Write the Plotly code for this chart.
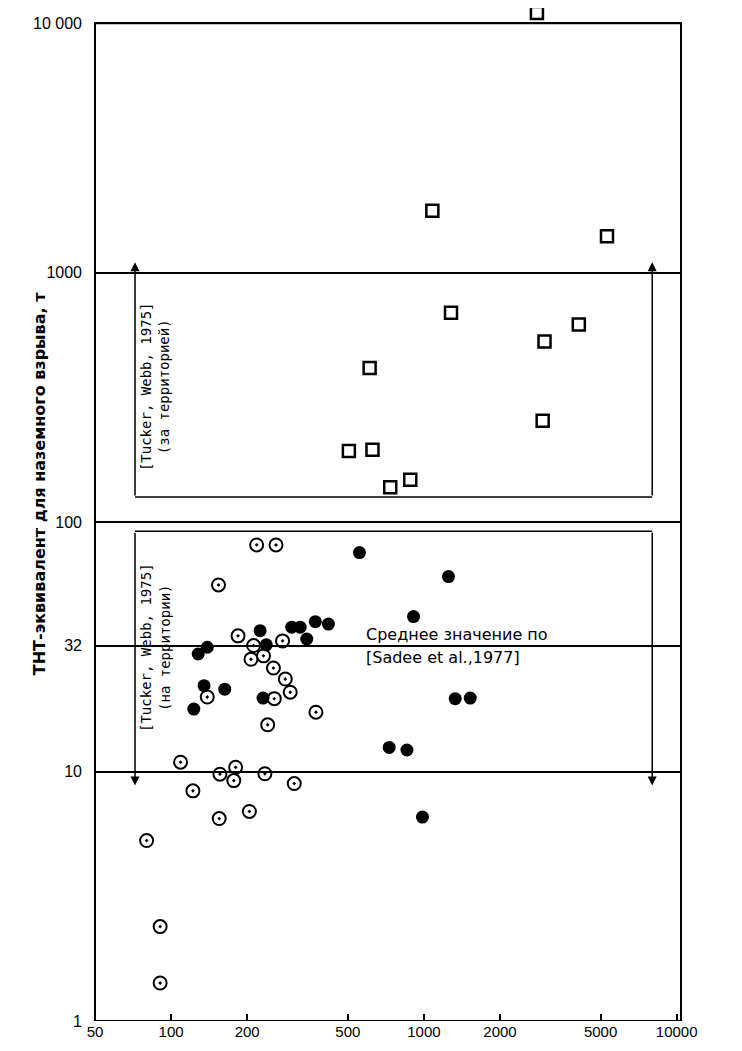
import numpy as np
import plotly.graph_objs as go

# squares: beyond territory
sq_x = [2800, 1080, 5300, 1280, 4100, 3000, 610, 2950, 505, 626, 736, 883]
sq_y = [11000, 1770, 1400, 690, 620, 530, 415, 255, 193, 195, 138, 148]

# filled circles
fc_x = [128, 139, 225, 238, 300, 324, 372, 419, 344, 135, 163, 123, 231,
        556, 1251, 910, 1330, 1525, 729, 857, 987]
fc_y = [29.6, 31.5, 36.7, 32.2, 37.9, 37.9, 39.9, 39.0, 34.0, 22.1, 21.4, 17.8, 19.7,
        75.5, 60.5, 41.8, 19.6, 19.7, 12.5, 12.2, 6.57]

# open circles with a dot
oc_x = [218, 260, 154, 184, 212, 276, 207, 232, 254, 283, 296, 139, 256, 374,
        241, 109, 156, 180, 177, 235, 307, 122, 204, 155, 80, 90.5, 90.5]
oc_y = [81, 81, 56.0, 35.0, 32.0, 33.4, 28.2, 29.1, 26.0, 23.5, 20.8, 19.9, 19.6, 17.3,
        15.4, 10.9, 9.76, 10.4, 9.2, 9.8, 8.95, 8.37, 6.92, 6.48, 5.29, 2.39, 1.42]

# reference levels
sadee_mean = 32

# Tucker & Webb ranges
bracket_x = [72, 8000]
on_territory = [8.8, 92]
off_territory = [126, 1100]

x_ticks = [50, 100, 200, 500, 1000, 2000, 5000, 10000]
x_ticktext = ['50', '100', '200', '500', '1000', '2000', '5000', '10000']
y_ticks = [1, 10, 32, 100, 1000, 10000]
y_ticktext = ['1', '10', '32', '100', '1000', '10 000']
y_frame = [1, 10000]

lg = np.log10
mono = 'DejaVu Sans Mono'
narrow = 'Liberation Sans Narrow, Liberation Sans, Arial'

traces = [
    go.Scatter(x=sq_x, y=sq_y, mode='markers', cliponaxis=False,
               marker=dict(symbol='square-open', size=12, color='black',
                           line=dict(width=2.5, color='black'))),
    go.Scatter(x=fc_x, y=fc_y, mode='markers',
               marker=dict(symbol='circle', size=13, color='black')),
    go.Scatter(x=oc_x, y=oc_y, mode='markers', cliponaxis=False,
               marker=dict(symbol='circle-open-dot', size=13, color='black',
                           line=dict(width=2, color='black'))),
]

# frame drawn as a box so the one point above 10 000 still shows
shapes = [dict(type='rect', xref='paper', yref='y', x0=0, x1=1,
               y0=y_frame[0], y1=y_frame[1],
               line=dict(color='black', width=2), fillcolor='rgba(0,0,0,0)')]
annotations = []

# bracket bottoms / tops
for yv in [off_territory[0], on_territory[1]]:
    shapes.append(dict(type='line', xref='x', yref='y',
                       x0=bracket_x[0], x1=bracket_x[1], y0=yv, y1=yv,
                       line=dict(color='black', width=1.5)))

# bracket verticals with arrows
for xb in bracket_x:
    for tip, tail in [(off_territory[1], off_territory[0]), (on_territory[0], on_territory[1])]:
        annotations.append(dict(x=lg(xb), y=lg(tip), ax=lg(xb), ay=lg(tail),
                                xref='x', yref='y', axref='x', ayref='y', text='',
                                showarrow=True, arrowhead=2, arrowsize=1.2, arrowwidth=1.5,
                                arrowcolor='black'))

annotations += [
    dict(x=lg(86.5), y=1.496, xref='x', yref='y', showarrow=False, textangle=-90,
         text='[Tucker, Webb, 1975]<br>(на территории)', align='center',
         font=dict(family=mono, size=14, color='black')),
    dict(x=lg(86.5), y=2.542, xref='x', yref='y', showarrow=False, textangle=-90,
         text='[Tucker, Webb, 1975]<br>(за территорией)', align='center',
         font=dict(family=mono, size=14, color='black')),
    dict(x=lg(580), y=lg(sadee_mean), xref='x', yref='y', showarrow=False,
         xanchor='left', yanchor='bottom', text='Среднее значение по',
         font=dict(family='DejaVu Sans', size=16, color='black')),
    dict(x=lg(580), y=lg(sadee_mean), xref='x', yref='y', showarrow=False,
         xanchor='left', yanchor='top', text='[Sadee et al.,1977]',
         font=dict(family='DejaVu Sans', size=16, color='black')),
    dict(x=0, y=0.532, xref='paper', yref='paper', xshift=-56, showarrow=False,
         xanchor='center', yanchor='middle',
         textangle=-90, text='<b>ТНТ-эквивалент для наземного взрыва, т</b>',
         font=dict(family='DejaVu Sans', size=16, color='black')),
]

# page body adds an 8px margin, so the figure is sized to fit inside the window
layout = go.Layout(
    width=726, height=1035,
    margin=dict(l=87, r=53, t=4, b=22),
    paper_bgcolor='white', plot_bgcolor='white',
    showlegend=False,
    font=dict(family=narrow, size=14, color='black'),
    xaxis=dict(type='log', range=[lg(50), lg(10400)], automargin=False,
               tickvals=x_ticks, ticktext=x_ticktext,
               ticks='inside', ticklen=7, tickwidth=1.5, tickcolor='black',
               showgrid=False, zeroline=False, showline=False,
               tickfont=dict(family=narrow, size=15)),
    yaxis=dict(type='log', range=[0, 4.045], automargin=False,
               tickvals=y_ticks, ticktext=y_ticktext,
               ticks='', ticklabelstandoff=12,
               showgrid=True, gridcolor='black', gridwidth=1.5, zeroline=False,
               showline=False,
               tickfont=dict(family=narrow, size=16)),
    shapes=shapes,
    annotations=annotations,
)

fig = go.Figure(data=traces, layout=layout)
fig.write_html('out.html')
